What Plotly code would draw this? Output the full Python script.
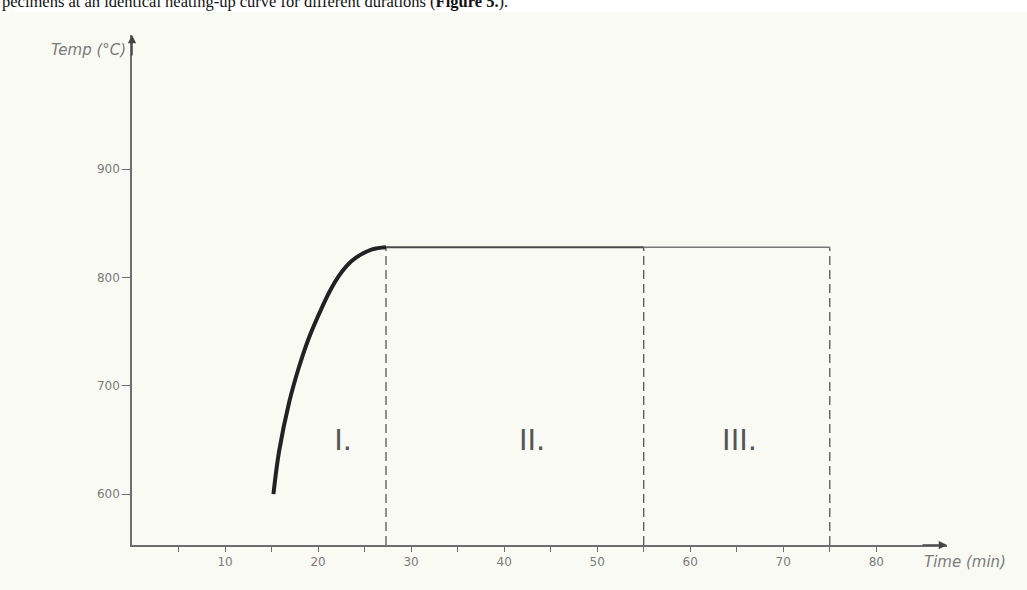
import plotly.graph_objects as go

# Heating-up curve (time in min, temperature in °C)
curve_time = [15.2, 15.8, 16.9, 17.9, 19.0, 20.4, 21.3, 22.2, 23.1, 24.0, 25.8, 27.3]
curve_temp = [600, 639, 685, 716, 744, 772, 788, 801, 811, 818, 826, 828]

# Holding temperature and the ends of the three phases
hold_temp = 828
phase_ends = [27.3, 55, 75]
phase_names = ["I.", "II.", "III."]
phase_label_time = [22.7, 43.0, 65.3]
phase_label_temp = 647

x_tick_vals = [10, 20, 30, 40, 50, 60, 70, 80]
x_minor_vals = [5, 15, 25, 35, 45, 55, 65, 75]
y_tick_vals = [600, 700, 800, 900]

x_range = [0, 87.6]
y_range = [553, 1024]

ink = "#555555"
axis_col = "#6e6e6e"
label_col = "#7a7a7a"
cream = "#fafaf5"

fig = go.Figure()

# dashed phase boundaries from the axis up to the holding line
for t in phase_ends:
    fig.add_trace(go.Scatter(
        x=[t, t], y=[y_range[0], hold_temp], mode="lines",
        line=dict(color=ink, width=1.3, dash="9px,5px"),
        hoverinfo="skip", showlegend=False))

# holding line
fig.add_trace(go.Scatter(
    x=[phase_ends[0], phase_ends[1]], y=[hold_temp, hold_temp], mode="lines",
    line=dict(color="#4a4a4a", width=1.8), showlegend=False))
fig.add_trace(go.Scatter(
    x=[phase_ends[1], phase_ends[2]], y=[hold_temp, hold_temp], mode="lines",
    line=dict(color="#777777", width=1.5), showlegend=False))

# heating-up curve
fig.add_trace(go.Scatter(
    x=curve_time, y=curve_temp, mode="lines",
    line=dict(color="#222222", width=4, shape="spline", smoothing=1.0),
    showlegend=False))

# phase numerals
fig.add_trace(go.Scatter(
    x=phase_label_time, y=[phase_label_temp] * len(phase_names),
    mode="text", text=phase_names,
    textfont=dict(family="DejaVu Sans", size=29, color="#555555"),
    hoverinfo="skip", showlegend=False))

annotations = [
    # axis arrow heads
    dict(xref="paper", yref="paper", x=0, y=1, ax=0, ay=22,
         showarrow=True, arrowhead=2, arrowsize=1.1, arrowwidth=1.5,
         arrowcolor="#444444", text=""),
    dict(xref="paper", yref="paper", x=1, y=0, ax=-26, ay=0,
         showarrow=True, arrowhead=2, arrowsize=1.1, arrowwidth=1.5,
         arrowcolor="#444444", text=""),
    # axis titles
    dict(xref="paper", yref="paper", x=-0.005, y=0.971,
         xanchor="right", yanchor="middle", showarrow=False,
         text="<i>Temp (°C)</i>",
         font=dict(family="DejaVu Sans", size=15, color=label_col)),
    dict(xref="paper", yref="paper", x=0.969, y=-0.033,
         xanchor="left", yanchor="middle", showarrow=False,
         text="<i>Time (min)</i>",
         font=dict(family="DejaVu Sans", size=15, color=label_col)),
    # running text line above the figure
    dict(xref="paper", yref="paper", x=-0.162, y=1.043,
         xanchor="left", yanchor="bottom", showarrow=False,
         text="pecimens at an identical heating-up curve for different durations (<b>Figure 5.</b>).",
         font=dict(family="Liberation Serif", size=16.5, color="#111111")),
]

shapes = [
    dict(type="rect", xref="paper", yref="paper",
         x0=-0.2, x1=1.2, y0=1.045, y1=1.08,
         fillcolor="white", line=dict(width=0), layer="below"),
]

fig.update_layout(
    width=1027, height=590,
    margin=dict(l=132, r=80, t=35, b=45),
    paper_bgcolor=cream, plot_bgcolor=cream,
    annotations=annotations, shapes=shapes,
    xaxis=dict(
        range=x_range, showgrid=False, zeroline=False,
        showline=True, linecolor=axis_col, linewidth=1.5,
        tickmode="array", tickvals=x_tick_vals,
        ticks="outside", ticklen=5, tickwidth=1.2, tickcolor=axis_col,
        minor=dict(tickmode="array", tickvals=x_minor_vals, ticks="outside",
                   ticklen=5, tickwidth=1.2, tickcolor=axis_col),
        tickfont=dict(family="DejaVu Sans", size=12, color=label_col),
    ),
    yaxis=dict(
        range=y_range, showgrid=False, zeroline=False,
        showline=True, linecolor=axis_col, linewidth=1.5,
        tickmode="array", tickvals=y_tick_vals,
        ticks="outside", ticklen=8, tickwidth=1.2, tickcolor=axis_col,
        tickfont=dict(family="DejaVu Sans", size=12, color=label_col),
    ),
)

fig.write_html("out.html")
